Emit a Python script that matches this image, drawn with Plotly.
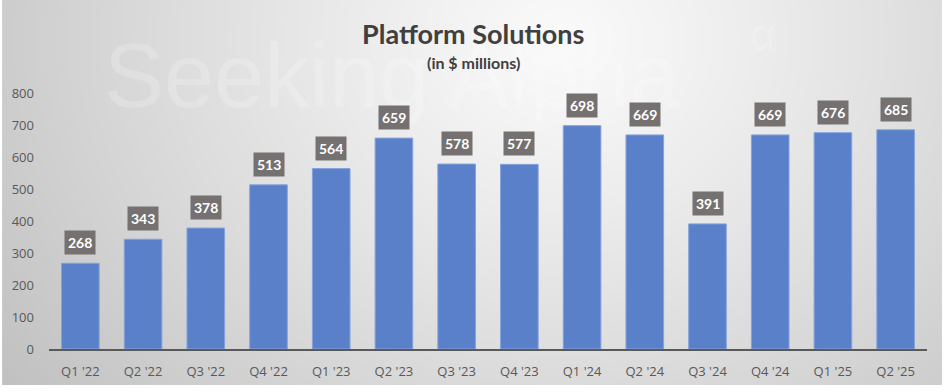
import base64, struct, zlib
import numpy as np
import plotly.graph_objects as go

categories = ["Q1 '22", "Q2 '22", "Q3 '22", "Q4 '22", "Q1 '23", "Q2 '23", "Q3 '23",
              "Q4 '23", "Q1 '24", "Q2 '24", "Q3 '24", "Q4 '24", "Q1 '25", "Q2 '25"]
values = [268, 343, 378, 513, 564, 659, 578, 577, 698, 669, 391, 669, 676, 685]
y_ticks = [0, 100, 200, 300, 400, 500, 600, 700, 800]

title_text = "Platform Solutions"
subtitle_text = "(in $ millions)"
watermark_text = "Seeking Alpha"

W, H = 947, 392
L, R, T, B = 47, 20, 93, 43
PW, PH = W - L - R, H - T - B


def make_png(arr):
    h, w = arr.shape
    raw = b"".join(b"\x00" + arr[i].tobytes() for i in range(h))

    def chunk(tag, data):
        return (struct.pack(">I", len(data)) + tag + data +
                struct.pack(">I", zlib.crc32(tag + data) & 0xffffffff))
    return (b"\x89PNG\r\n\x1a\n" +
            chunk(b"IHDR", struct.pack(">IIBBBBB", w, h, 8, 0, 0, 0, 0)) +
            chunk(b"IDAT", zlib.compress(raw, 9)) + chunk(b"IEND", b""))


# radial grey background gradient (chart frame)
FW, FH = 942, 385
yy, xx = np.mgrid[0:FH, 0:FW].astype(float)
r = np.sqrt(((xx - 560) / 1.0) ** 2 + ((yy - 40) / 0.85) ** 2)
bright = 250 - 60 * (r / 720) ** 1.15
bright = np.clip(bright, 188, 252).astype(np.uint8)
bg_src = "data:image/png;base64," + base64.b64encode(make_png(bright)).decode()

fig = go.Figure()
fig.add_trace(go.Bar(
    x=categories, y=values, width=0.6,
    marker=dict(color="#5a80c9", line=dict(color="#86a3dc", width=1)),
    hoverinfo="x+y",
))

annotations = [
    dict(x=(100 - L) / PW, y=(H - B - 76) / PH, xref="paper", yref="paper",
         xanchor="left", yanchor="middle", showarrow=False, text=watermark_text,
         font=dict(family="Liberation Sans, Arial, sans-serif", size=90,
                   color="rgba(255,255,255,0.2)")),
    dict(x=(748 - L) / PW, y=(H - B - 34) / PH, xref="paper", yref="paper",
         xanchor="left", yanchor="middle", showarrow=False, text="α",
         font=dict(family="Liberation Sans, Arial, sans-serif", size=44,
                   color="rgba(255,255,255,0.2)")),
]
for c, v in zip(categories, values):
    annotations.append(dict(
        x=c, y=v, xref="x", yref="y", text=f"<b>{v}</b>", showarrow=False,
        yanchor="bottom", yshift=8, bgcolor="#767171", borderpad=3,
        font=dict(family="Lato, sans-serif", size=14, color="white"),
    ))

annotations += [
    dict(x=(472 - L) / PW, y=(H - B - 33) / PH, xref="paper", yref="paper",
         xanchor="center", yanchor="middle", showarrow=False, text=f"<b>{title_text}</b>",
         font=dict(family="Lato, sans-serif", size=27, color="#404040")),
    dict(x=(472 - L) / PW, y=(H - B - 62) / PH, xref="paper", yref="paper",
         xanchor="center", yanchor="middle", showarrow=False, text=f"<b>{subtitle_text}</b>",
         font=dict(family="Lato, sans-serif", size=16, color="#404040")),
]

fig.update_layout(
    width=W, height=H,
    margin=dict(l=L, r=R, t=T, b=B, pad=0),
    paper_bgcolor="white", plot_bgcolor="rgba(0,0,0,0)",
    showlegend=False, bargap=0.4,
    annotations=annotations,
    images=[dict(source=bg_src, xref="paper", yref="paper",
                 x=-L / PW, y=1 + T / PH, sizex=FW / PW, sizey=FH / PH,
                 sizing="stretch", xanchor="left", yanchor="top", layer="below")],
    xaxis=dict(showline=True, linecolor="#595959", linewidth=1.5, ticks="",
               showgrid=False, zeroline=False, ticklabelstandoff=10,
               tickfont=dict(family="Open Sans, sans-serif", size=13, color="#595959")),
    yaxis=dict(range=[0, 800], tickvals=y_ticks, showgrid=False, zeroline=False,
               showline=False, ticks="", ticklabelstandoff=14,
               tickfont=dict(family="Open Sans, sans-serif", size=13, color="#595959")),
)

fig.write_html("out.html", config={"displayModeBar": False},
               post_script="document.body.style.margin='0';document.body.style.overflow='hidden';")
